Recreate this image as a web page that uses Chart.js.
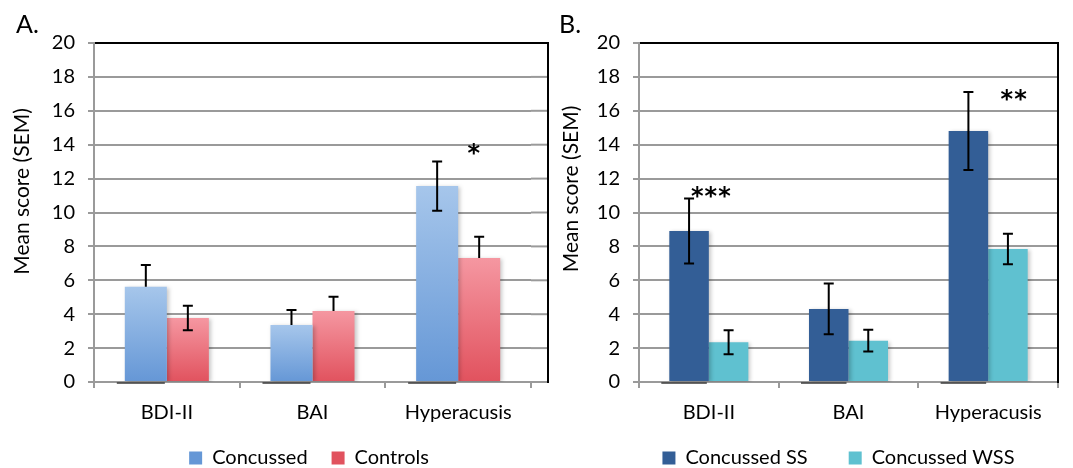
<!DOCTYPE html>
<html>
<head>
<meta charset="utf-8">
<script src="https://cdn.jsdelivr.net/npm/chart.js@4.4.1/dist/chart.umd.min.js"></script>
<style>
  html, body { margin: 0; padding: 0; background: #fff; overflow: hidden; width: 1073px; height: 468px; }
  #wrapA { position: absolute; left: 0; top: 0; }
  #wrapB { position: absolute; left: 552px; top: 0; }
  canvas { display: block; }
</style>
</head>
<body>
<div id="wrapA"><canvas id="cA" width="552" height="478"></canvas></div>
<div id="wrapB"><canvas id="cB" width="521" height="495"></canvas></div>
<script>
// ---------------- data ----------------
const categories = ['BDI-II', 'BAI', 'Hyperacusis'];
const yMin = 0, yMax = 20, yStep = 2;
const yTitle = 'Mean score (SEM)';

// Panel A
const concussed      = [5.62, 3.36, 11.56];
const concussedSEM   = [1.28, 0.89, 1.45];
const concussedErr   = ['plus', 'plus', 'both'];
const controls       = [3.78, 4.19, 7.32];
const controlsSEM    = [0.72, 0.84, 1.25];
const controlsErr    = ['both', 'plus', 'plus'];
const sigA           = ['', '', '*'];

// Panel B
const concussedSS     = [8.91, 4.31, 14.81];
const concussedSSSEM  = [1.92, 1.50, 2.30];
const concussedSSErr  = ['both', 'both', 'both'];
const concussedWSS    = [2.34, 2.44, 7.85];
const concussedWSSSEM = [0.71, 0.64, 0.90];
const concussedWSSErr = ['both', 'both', 'both'];
const sigB            = ['***', '', '**'];

// ---------------- styles ----------------
const FONT = 'Lato';
const GRID = '#9a9a9a';

function gradientFill(top, bottom, solid) {
  return (c) => {
    if (c.type !== 'data') return solid;
    const chart = c.chart;
    const y = chart.scales && chart.scales.y;
    if (!chart.chartArea || !y) return solid;
    const p0 = y.getPixelForValue(c.raw), p1 = y.getPixelForValue(0);
    const g = chart.ctx.createLinearGradient(0, p0, 0, p1);
    g.addColorStop(0, top);
    g.addColorStop(1, bottom);
    return g;
  };
}

const deco = {
  id: 'deco',
  afterLayout(chart, args, o) {
    if (chart.legend) {
      chart.legend.left += o.legendShift;
      chart.legend.right += o.legendShift;
      chart.legend.top += o.legendShiftY;
      chart.legend.bottom += o.legendShiftY;
    }
  },
  beforeDatasetsDraw(chart, args, o) {
    const { ctx, chartArea: ca, scales: { y } } = chart;
    ctx.save();
    if (o.frameRight > ca.right) {
      for (let v = yMin; v <= yMax; v += yStep) {
        const py = y.getPixelForValue(v);
        ctx.strokeStyle = v === yMax ? '#000' : GRID;
        ctx.lineWidth = 2;
        ctx.beginPath(); ctx.moveTo(ca.right, py); ctx.lineTo(o.frameRight, py); ctx.stroke();
      }
    }
    ctx.strokeStyle = '#000';
    ctx.lineWidth = 2;
    ctx.beginPath(); ctx.moveTo(o.frameRight, ca.top - 1); ctx.lineTo(o.frameRight, ca.bottom + 1); ctx.stroke();
    ctx.restore();
    ctx.save();
    ctx.shadowColor = 'rgba(0,0,0,0.22)';
    ctx.shadowBlur = 4;
    ctx.shadowOffsetX = 2;
    ctx.shadowOffsetY = 1;
  },
  afterDatasetsDraw(chart, args, o) {
    const { ctx, scales: { y } } = chart;
    ctx.restore();
    const base = y.getPixelForValue(0);
    // baseline marks under first series
    const m0 = chart.getDatasetMeta(0);
    ctx.save();
    ctx.strokeStyle = '#3a3a3a';
    ctx.lineWidth = 1.5;
    m0.data.forEach((bar) => {
      ctx.beginPath();
      ctx.moveTo(bar.x - bar.width / 2 - 8, base + 1);
      ctx.lineTo(bar.x + bar.width / 2 - 2, base + 1);
      ctx.stroke();
    });
    // error bars
    ctx.strokeStyle = '#000';
    ctx.lineWidth = 2;
    chart.data.datasets.forEach((ds, i) => {
      const meta = chart.getDatasetMeta(i);
      meta.data.forEach((bar, j) => {
        const v = ds.data[j], s = ds.sem[j];
        const yt = y.getPixelForValue(v + s);
        const yb = ds.errDir[j] === 'both' ? y.getPixelForValue(v - s) : y.getPixelForValue(v);
        const x = bar.x, cw = 5;
        ctx.beginPath();
        ctx.moveTo(x, yt); ctx.lineTo(x, yb);
        ctx.moveTo(x - cw, yt); ctx.lineTo(x + cw, yt);
        if (ds.errDir[j] === 'both') { ctx.moveTo(x - cw, yb); ctx.lineTo(x + cw, yb); }
        ctx.stroke();
      });
    });
    ctx.restore();
  },
  afterDraw(chart, args, o) {
    const { ctx, scales: { x, y } } = chart;
    ctx.save();
    ctx.fillStyle = '#000';
    // panel label
    ctx.font = '25px ' + FONT;
    ctx.textAlign = 'left';
    ctx.textBaseline = 'alphabetic';
    ctx.fillText(o.panel, o.panelX, 33);
    // y axis title
    ctx.save();
    ctx.translate(o.titleX, o.titleY);
    ctx.rotate(-Math.PI / 2);
    ctx.font = '21px ' + FONT;
    ctx.textAlign = 'center';
    ctx.textBaseline = 'middle';
    ctx.fillText(yTitle, 0, 0);
    ctx.restore();
    // significance stars
    const ds0 = chart.data.datasets[0];
    ctx.font = 'bold 24px "DejaVu Sans"';
    ctx.textAlign = 'center';
    ctx.textBaseline = 'alphabetic';
    o.sig.forEach((label, j) => {
      if (!label) return;
      const pos = o.sigPos[j];
      const cx = x.getPixelForValue(j) + pos.dx;
      const cy = y.getPixelForValue(ds0.data[j] + ds0.sem[j]) + pos.dy;
      const n = label.length, sp = 13.6;
      for (let k = 0; k < n; k++) {
        ctx.fillText(label[k], cx + (k - (n - 1) / 2) * sp, cy + 13);
      }
    });
    ctx.restore();
  }
};

function makeChart(id, cfg) {
  return new Chart(document.getElementById(id), {
    type: 'bar',
    data: { labels: categories, datasets: cfg.datasets },
    options: {
      responsive: false,
      animation: false,
      devicePixelRatio: 1,
      events: [],
      layout: { padding: { top: 43, left: 0, right: cfg.padRight, bottom: 0 } },
      datasets: { bar: { categoryPercentage: cfg.catPct, barPercentage: 1, borderWidth: 0 } },
      scales: {
        x: {
          afterFit: (s) => { s.height = 42; },
          grid: { drawOnChartArea: false, drawTicks: true, tickLength: 6, color: GRID, lineWidth: 2, offset: true },
          border: { color: GRID, width: 2 },
          ticks: { font: { family: FONT, size: 20 }, color: '#000', padding: 13 }
        },
        y: {
          min: yMin, max: yMax,
          afterFit: (s) => { s.width = cfg.yAxisWidth; },
          ticks: { stepSize: yStep, font: { family: FONT, size: 20 }, color: '#000', padding: 13 },
          grid: {
            color: (c) => (c.tick && c.tick.value === yMax ? '#000' : GRID),
            tickColor: GRID, lineWidth: 2, tickLength: 6
          },
          border: { color: GRID, width: 2 }
        }
      },
      plugins: {
        legend: {
          position: 'bottom', fullSize: cfg.legendFull,
          labels: { boxWidth: 13, boxHeight: 13, padding: cfg.legendPad, color: '#000', font: { family: FONT, size: 20 } }
        },
        tooltip: { enabled: false },
        deco: cfg.deco
      }
    },
    plugins: [deco]
  });
}

function build() {
  makeChart('cA', {
    padRight: 21, yAxisWidth: 94, legendPad: 24, legendFull: false, catPct: 0.577,
    datasets: [
      { label: 'Concussed', data: concussed, sem: concussedSEM, errDir: concussedErr,
        backgroundColor: gradientFill('#a6c6eb', '#6597d6', '#78a4dc') },
      { label: 'Controls', data: controls, sem: controlsSEM, errDir: controlsErr,
        backgroundColor: gradientFill('#f597a1', '#e1525e', '#e96c77') }
    ],
    deco: { panel: 'A.', panelX: 16, titleX: 22.5, titleY: 191.5, frameRight: 548,
            legendShift: -3.5, legendShiftY: 0,
            sig: sigA, sigPos: [null, null, { dx: 15.5, dy: -13.7 }] }
  });
  makeChart('cB', {
    padRight: 15, yAxisWidth: 87, legendPad: 41, legendFull: true, catPct: 0.566,
    datasets: [
      { label: 'Concussed SS', data: concussedSS, sem: concussedSSSEM, errDir: concussedSSErr,
        backgroundColor: '#335e96' },
      { label: 'Concussed WSS', data: concussedWSS, sem: concussedWSSSEM, errDir: concussedWSSErr,
        backgroundColor: '#5fc1d0' }
    ],
    deco: { panel: 'B.', panelX: 7, titleX: 19, titleY: 189, frameRight: 506,
            legendShift: 33.5, legendShiftY: -17,
            sig: sigB, sigPos: [{ dx: 2, dy: -7.3 }, null, { dx: 25.5, dy: 1.7 }] }
  });
}

const fontLoads = document.fonts && document.fonts.load
  ? Promise.all([document.fonts.load('20px Lato'), document.fonts.load('bold 24px "DejaVu Sans"')]).catch(() => {})
  : Promise.resolve();
fontLoads.then(build, build);
</script>
</body>
</html>
